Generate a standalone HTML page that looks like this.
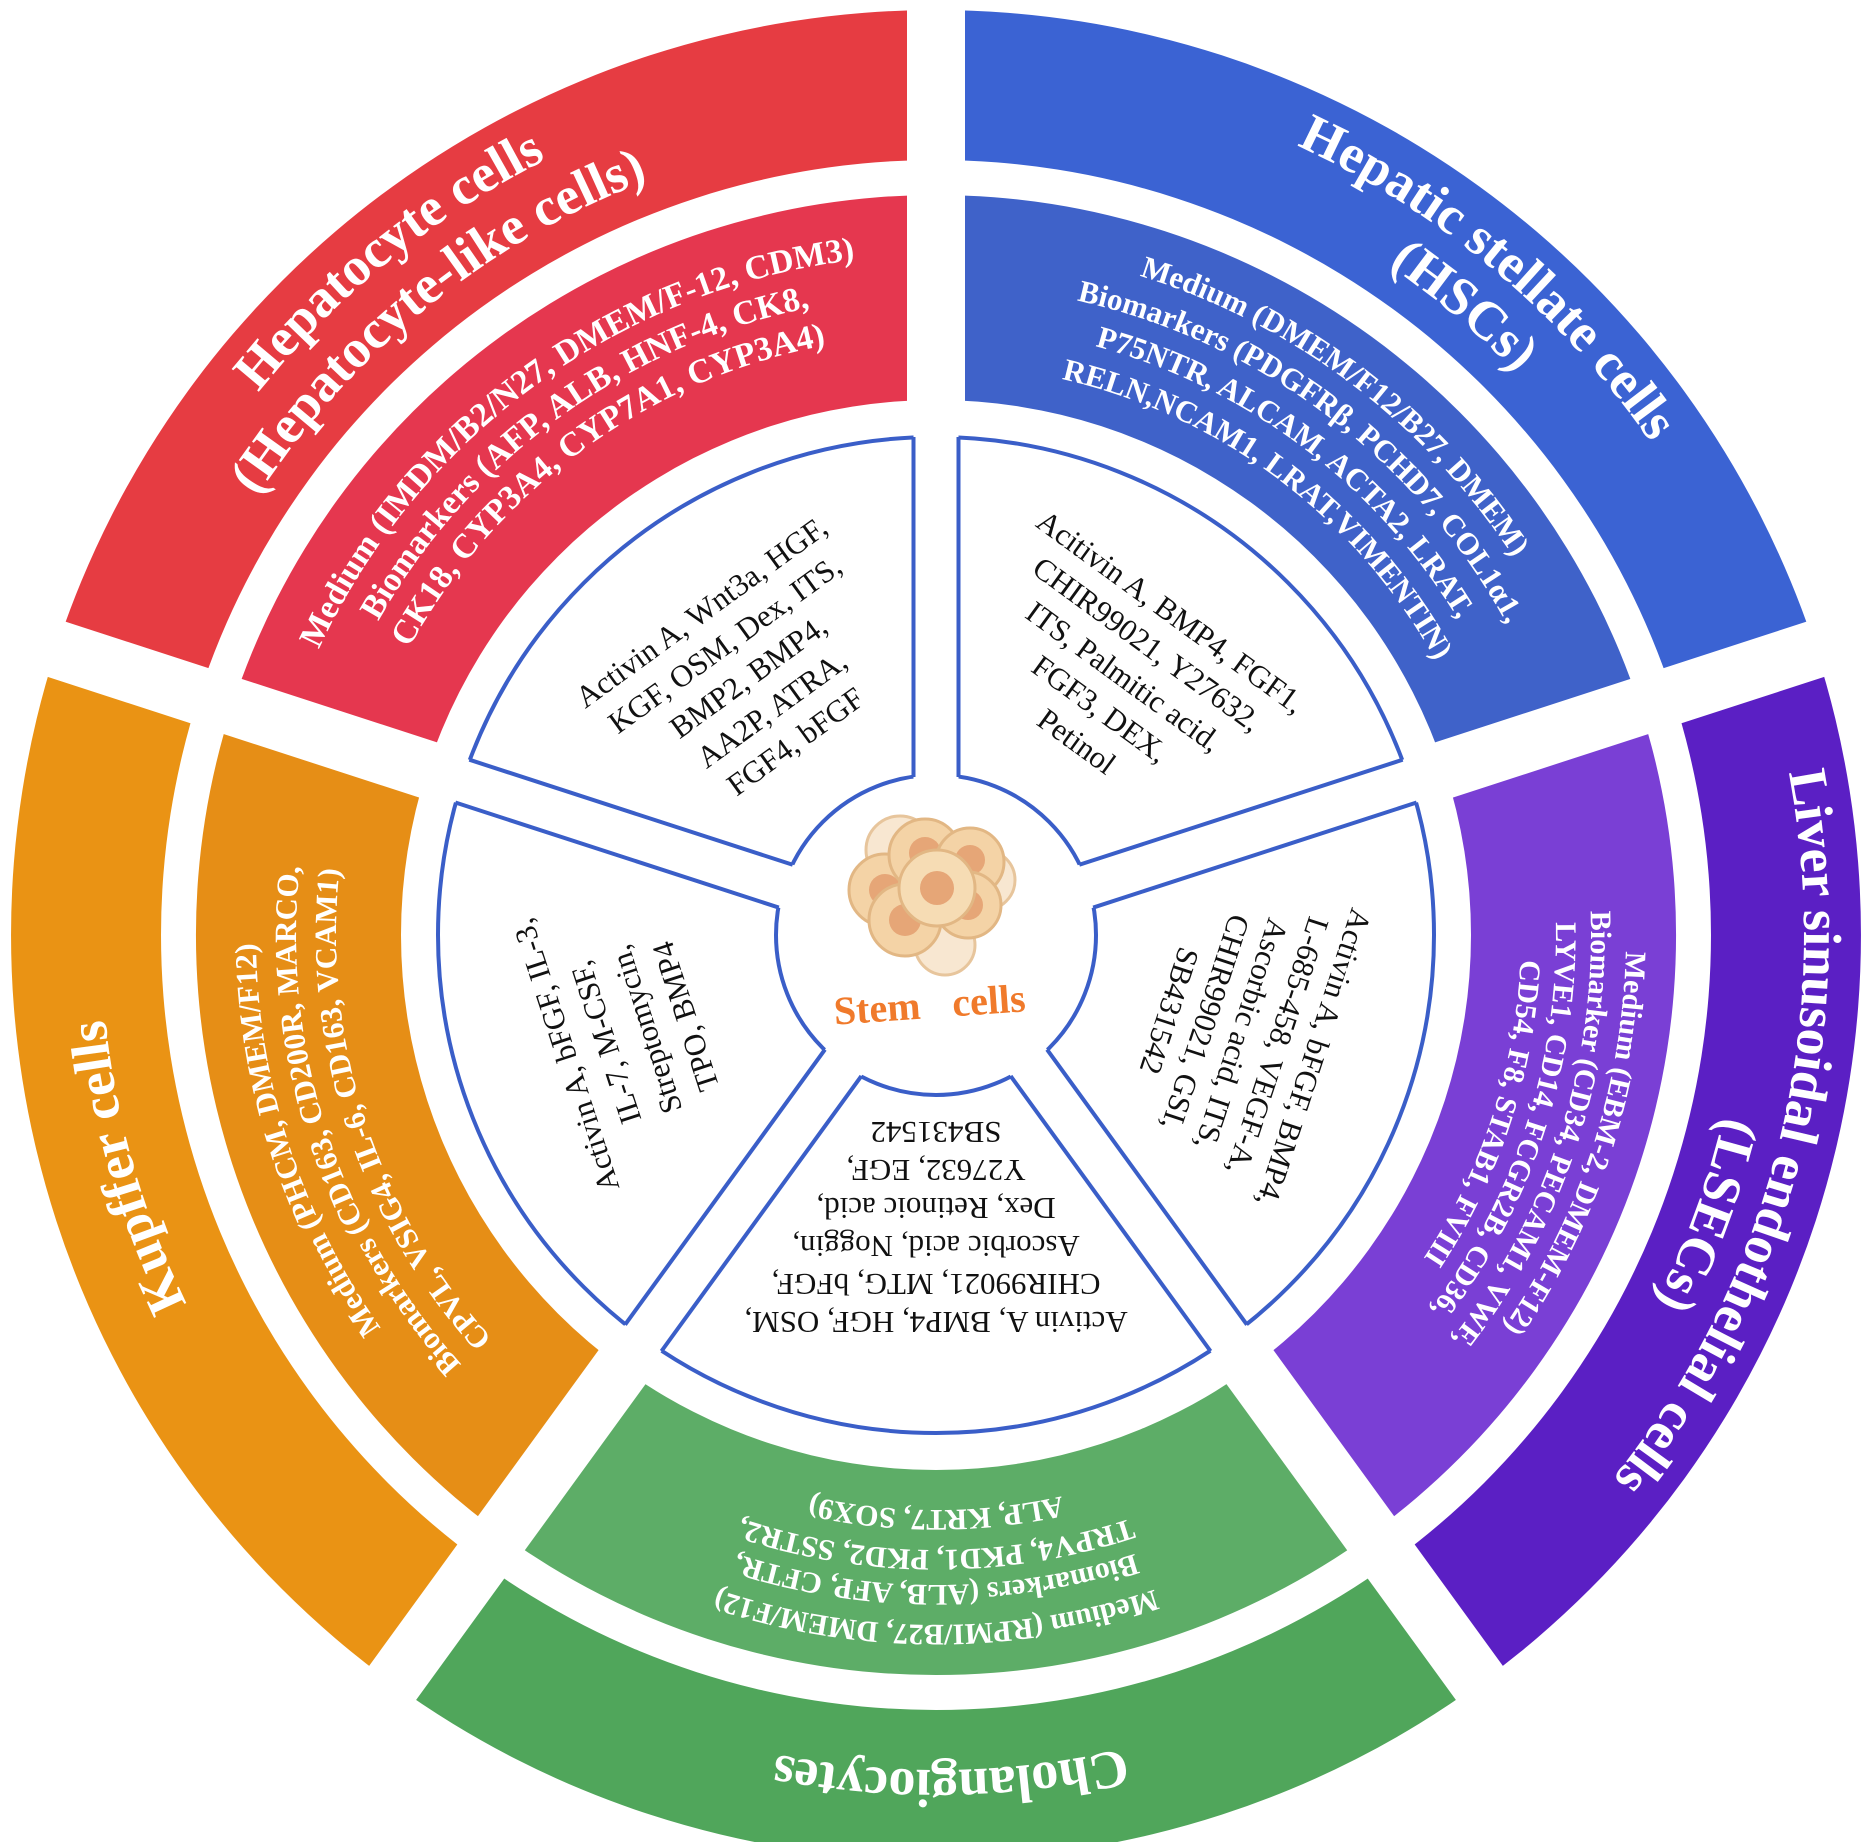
<!DOCTYPE html>
<html><head><meta charset="utf-8"><style>
html,body{margin:0;padding:0;background:#fff;}
svg{display:block;}
.t{font-family:"Liberation Serif",serif;fill:#fff;font-weight:bold;}
.m{font-family:"Liberation Serif",serif;fill:#fff;}
.i{font-family:"Liberation Serif",serif;fill:#111;font-size:31px;}
</style></head><body>
<svg width="1867" height="1842" viewBox="0 0 1867 1842" xmlns="http://www.w3.org/2000/svg">
<defs>
<path id="outerSec" d="M392.3,186.7 A925,925 0 0 1 1479.7,186.7 L1391.5,308 A775,775 0 0 0 480.5,308 Z"/>
<path id="midSec" d="M501,336.3 A740,740 0 0 1 1371,336.3 L1250.5,502.2 A535,535 0 0 0 621.5,502.2 Z"/>
<path id="a570" d="M442.4,650 A570,570 0 0 1 1429.6,650"/>
<path id="a575" d="M438,647.5 A575,575 0 0 1 1434,647.5"/>
<path id="a585" d="M429.4,642.5 A585,585 0 0 1 1442.6,642.5"/>
<path id="a595" d="M420.7,637.5 A595,595 0 0 1 1451.3,637.5"/>
<path id="a600" d="M416.4,635 A600,600 0 0 1 1455.6,635"/>
<path id="a610" d="M407.7,630 A610,610 0 0 1 1464.3,630"/>
<path id="a615" d="M403.4,627.5 A615,615 0 0 1 1468.6,627.5"/>
<path id="a620" d="M399.1,625 A620,620 0 0 1 1472.9,625"/>
<path id="a640" d="M381.8,615 A640,640 0 0 1 1490.2,615"/>
<path id="a650" d="M373.1,610 A650,650 0 0 1 1498.9,610"/>
<path id="a655" d="M368.8,607.5 A655,655 0 0 1 1503.2,607.5"/>
<path id="a680" d="M347.1,595 A680,680 0 0 1 1524.9,595"/>
<path id="a690" d="M338.5,590 A690,690 0 0 1 1533.5,590"/>
<path id="a808" d="M236.3,531 A808,808 0 0 1 1635.7,531"/>
<path id="a835" d="M212.9,517.5 A835,835 0 0 1 1659.1,517.5"/>
<path id="a868" d="M184.3,501 A868,868 0 0 1 1687.7,501"/>
</defs>

<use href="#outerSec" fill="#e63c42" transform="rotate(-36 936 935)"/>
<use href="#outerSec" fill="#3b63d3" transform="rotate(36 936 935)"/>
<use href="#outerSec" fill="#5b1fc4" transform="rotate(108 936 935)"/>
<use href="#outerSec" fill="#50a65b" transform="rotate(180 936 935)"/>
<use href="#outerSec" fill="#ea9314" transform="rotate(252 936 935)"/>
<use href="#midSec" fill="#e5374f" transform="rotate(-36 936 935)"/>
<use href="#midSec" fill="#3f62c9" transform="rotate(36 936 935)"/>
<use href="#midSec" fill="#7a3fd5" transform="rotate(108 936 935)"/>
<use href="#midSec" fill="#5dad67" transform="rotate(180 936 935)"/>
<use href="#midSec" fill="#e68e16" transform="rotate(252 936 935)"/>

<g fill="#fff">
<rect x="907" y="-40" width="58" height="975" transform="rotate(0 936 935)"/>
<rect x="907" y="-40" width="58" height="975" transform="rotate(72 936 935)"/>
<rect x="907" y="-40" width="58" height="975" transform="rotate(144 936 935)"/>
<rect x="907" y="-40" width="58" height="975" transform="rotate(216 936 935)"/>
<rect x="907" y="-40" width="58" height="975" transform="rotate(288 936 935)"/>
</g>

<circle cx="936" cy="935" r="498" fill="#fff" stroke="#3a5ec8" stroke-width="4"/>
<circle cx="936" cy="935" r="160" fill="#fff" stroke="#3a5ec8" stroke-width="4"/>
<g>
<g transform="rotate(0 936 935)"><rect x="913.5" y="430" width="45" height="356" fill="#fff"/><line x1="913.5" y1="437" x2="913.5" y2="777" stroke="#3a5ec8" stroke-width="4"/><line x1="958.5" y1="437" x2="958.5" y2="777" stroke="#3a5ec8" stroke-width="4"/></g>
<g transform="rotate(72 936 935)"><rect x="913.5" y="430" width="45" height="356" fill="#fff"/><line x1="913.5" y1="437" x2="913.5" y2="777" stroke="#3a5ec8" stroke-width="4"/><line x1="958.5" y1="437" x2="958.5" y2="777" stroke="#3a5ec8" stroke-width="4"/></g>
<g transform="rotate(144 936 935)"><rect x="913.5" y="430" width="45" height="356" fill="#fff"/><line x1="913.5" y1="437" x2="913.5" y2="777" stroke="#3a5ec8" stroke-width="4"/><line x1="958.5" y1="437" x2="958.5" y2="777" stroke="#3a5ec8" stroke-width="4"/></g>
<g transform="rotate(216 936 935)"><rect x="913.5" y="430" width="45" height="356" fill="#fff"/><line x1="913.5" y1="437" x2="913.5" y2="777" stroke="#3a5ec8" stroke-width="4"/><line x1="958.5" y1="437" x2="958.5" y2="777" stroke="#3a5ec8" stroke-width="4"/></g>
<g transform="rotate(288 936 935)"><rect x="913.5" y="430" width="45" height="356" fill="#fff"/><line x1="913.5" y1="437" x2="913.5" y2="777" stroke="#3a5ec8" stroke-width="4"/><line x1="958.5" y1="437" x2="958.5" y2="777" stroke="#3a5ec8" stroke-width="4"/></g>
</g>

<g stroke="#e2b784" stroke-width="3">
<circle cx="900" cy="850" r="34" fill="#f7e2c6" opacity="0.8"/>
<circle cx="985" cy="880" r="30" fill="#f7e2c6" opacity="0.8"/>
<circle cx="945" cy="945" r="30" fill="#f7e2c6" opacity="0.8"/>
<circle cx="885" cy="890" r="36" fill="#f4d3a6"/><circle cx="885" cy="890" r="16" fill="#e6a677" stroke="none"/>
<circle cx="925" cy="855" r="36" fill="#f4d3a6"/><circle cx="925" cy="853" r="16" fill="#e6a677" stroke="none"/>
<circle cx="970" cy="862" r="34" fill="#f4d3a6"/><circle cx="970" cy="860" r="15" fill="#e6a677" stroke="none"/>
<circle cx="905" cy="920" r="36" fill="#f4d3a6"/><circle cx="905" cy="920" r="16" fill="#e6a677" stroke="none"/>
<circle cx="968" cy="905" r="33" fill="#f4d3a6"/><circle cx="968" cy="905" r="15" fill="#e6a677" stroke="none"/>
<circle cx="937" cy="888" r="38" fill="#f6dcb4"/><circle cx="937" cy="888" r="17" fill="#e6a677" stroke="none"/>
</g>
<text x="930" y="1018" transform="rotate(-4 930 1010)" text-anchor="middle" style="font-family:'Liberation Serif',serif;font-weight:bold;font-size:40px;fill:#f07a2b;word-spacing:22px">Stem cells</text>

<g class="t" font-size="54">
<g transform="rotate(-39 936 935)"><text><textPath href="#a868" startOffset="50%" text-anchor="middle">Hepatocyte cells</textPath></text>
<text><textPath href="#a808" startOffset="50%" text-anchor="middle">(Hepatocyte-like cells)</textPath></text></g>
<g transform="rotate(40 936 935)"><text><textPath href="#a868" startOffset="50%" text-anchor="middle">Hepatic stellate cells</textPath></text>
<text><textPath href="#a808" startOffset="50%" text-anchor="middle">(HSCs)</textPath></text></g>
<g transform="rotate(104 936 935)"><text><textPath href="#a868" startOffset="50%" text-anchor="middle">Liver sinusoidal endothelial cells</textPath></text></g>
<g transform="rotate(110 936 935)"><text><textPath href="#a808" startOffset="50%" text-anchor="middle">(LSECs)</textPath></text></g>
<g transform="rotate(254 936 935)"><text><textPath href="#a835" startOffset="50%" text-anchor="middle">Kupffer cells</textPath></text></g>
<g transform="rotate(179 936 935)"><text><textPath href="#a835" startOffset="50%" text-anchor="middle">Cholangiocytes</textPath></text></g>
</g>

<g class="m" font-weight="bold" font-size="34" transform="rotate(-36 936 935)">
<text><textPath href="#a680" startOffset="50%" text-anchor="middle">Medium (IMDM/B2/N27, DMEM/F-12, CDM3)</textPath></text>
<text><textPath href="#a640" startOffset="50%" text-anchor="middle">Biomarkers (AFP, ALB, HNF-4, CK8,</textPath></text>
<text><textPath href="#a600" startOffset="50%" text-anchor="middle">CK18, CYP3A4, CYP7A1, CYP3A4)</textPath></text>
</g>
<g class="m" font-weight="bold" font-size="31" transform="rotate(37 936 935)">
<text><textPath href="#a690" startOffset="50%" text-anchor="middle">Medium (DMEM/F12/B27, DMEM)</textPath></text>
<text><textPath href="#a650" startOffset="50%" text-anchor="middle">Biomarkers (PDGFRβ, PCHD7, COL1α1,</textPath></text>
<text><textPath href="#a610" startOffset="50%" text-anchor="middle">P75NTR, ALCAM, ACTA2, LRAT,</textPath></text>
<text><textPath href="#a570" startOffset="50%" text-anchor="middle">RELN,NCAM1, LRAT,VIMENTIN)</textPath></text>
</g>
<g class="m" font-weight="bold" font-size="30" transform="rotate(108 936 935)">
<text><textPath href="#a690" startOffset="50%" text-anchor="middle">Medium (EBM-2, DMEM-F12)</textPath></text>
<text><textPath href="#a655" startOffset="50%" text-anchor="middle">Biomarker (CD34, PECAM1, VWF,</textPath></text>
<text><textPath href="#a620" startOffset="50%" text-anchor="middle">LYVE1, CD14, FCGR2B, CD36,</textPath></text>
<text><textPath href="#a585" startOffset="50%" text-anchor="middle">CD54, F8, STAB1, FVIII</textPath></text>
</g>
<g class="m" font-weight="bold" font-size="30" transform="rotate(180 936 935)">
<text><textPath href="#a690" startOffset="50%" text-anchor="middle">Medium (RPMI/B27, DMEM/F12)</textPath></text>
<text><textPath href="#a650" startOffset="50%" text-anchor="middle">Biomarkers (ALB, AFP, CFTR,</textPath></text>
<text><textPath href="#a615" startOffset="50%" text-anchor="middle">TRPV4, PKD1, PKD2, SSTR2,</textPath></text>
<text><textPath href="#a575" startOffset="50%" text-anchor="middle">ALP, KRT7, SOX9)</textPath></text>
</g>
<g class="m" font-weight="bold" font-size="31" transform="rotate(252 936 935)">
<text><textPath href="#a680" startOffset="50%" text-anchor="middle">Medium (PHCM, DMEM/F12)</textPath></text>
<text><textPath href="#a640" startOffset="50%" text-anchor="middle">Biomarkers (CD163, CD200R, MARCO,</textPath></text>
<text><textPath href="#a600" startOffset="50%" text-anchor="middle">CPVL, VSIG4, IL-6, CD163, VCAM1)</textPath></text>
</g>

<g class="i" text-anchor="middle" transform="rotate(-36 936 935)">
<text x="936" y="546">Activin A, Wnt3a, HGF,</text>
<text x="936" y="586">KGF, OSM, Dex, ITS,</text>
<text x="936" y="626">BMP2, BMP4,</text>
<text x="936" y="666">AA2P, ATRA,</text>
<text x="936" y="706">FGF4, bFGF</text>
</g>
<g class="i" text-anchor="middle" transform="rotate(36 936 935)">
<text x="936" y="546">Acitivin A, BMP4, FGF1,</text>
<text x="936" y="586">CHIR99021, Y27632,</text>
<text x="936" y="626">ITS, Palmitic acid,</text>
<text x="936" y="666">FGF3, DEX,</text>
<text x="936" y="706">Petinol</text>
</g>
<g class="i" text-anchor="middle" transform="rotate(108 936 935)">
<text x="936" y="548">Activin A, bFGF, BMP4,</text>
<text x="936" y="586">L-685-458, VEGF-A,</text>
<text x="936" y="624">Ascorbic acid, ITS,</text>
<text x="936" y="662">CHIR99021, GSI,</text>
<text x="936" y="700">SB431542</text>
</g>
<g class="i" text-anchor="middle" transform="rotate(180 936 935)">
<text x="936" y="558">Activin A, BMP4, HGF, OSM,</text>
<text x="936" y="596">CHIR99021, MTG, bFGF,</text>
<text x="936" y="634">Ascorbic acid, Noggin,</text>
<text x="936" y="672">Dex, Retinoic acid,</text>
<text x="936" y="710">Y27632, EGF,</text>
<text x="936" y="748">SB431542</text>
</g>
<g class="i" text-anchor="middle" transform="rotate(252 936 935)">
<text x="936" y="556">Activin A, bFGF, IL-3,</text>
<text x="936" y="598">IL-7, M-CSF,</text>
<text x="936" y="640">Streptomycin,</text>
<text x="936" y="682">TPO, BMP4</text>
</g>
</svg>
</body></html>
